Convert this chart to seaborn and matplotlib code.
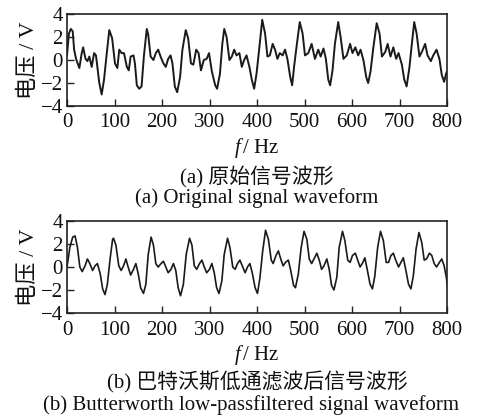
import numpy as np
import pandas as pd
import matplotlib
matplotlib.use("Agg")
import matplotlib.pyplot as plt
import seaborn as sns

# ---- data ----
t_orig = [0, 4, 8, 12, 15, 19, 26, 31, 34, 39, 43, 47, 52, 57, 61, 65, 68, 73, 78, 83,
          89, 95, 101, 106, 110, 115, 120, 126, 130, 134, 140, 143, 147, 152, 157, 162,
          168, 171, 176, 182, 187, 192, 197, 203, 208, 213, 218, 222, 227, 232, 238, 243,
          250, 255, 261, 266, 272, 277, 282, 288, 294, 299, 305, 312, 316, 322, 327, 331,
          336, 342, 347, 352, 357, 363, 368, 373, 378, 384, 389, 394, 399, 405, 411, 417,
          422, 427, 433, 438, 443, 448, 454, 459, 464, 470, 474, 478, 484, 490, 496, 501,
          508, 515, 522, 529, 534, 540, 545, 550, 554, 559, 564, 571, 576, 582, 589, 596,
          601, 607, 613, 618, 624, 630, 634, 639, 645, 652, 658, 663, 670, 675, 681, 687,
          693, 698, 705, 710, 715, 721, 726, 731, 736, 742, 747, 754, 759, 766, 771, 778,
          784, 789, 794, 798, 800]
v_orig = [0.4, 2.3, 2.7, 2.5, 0.9, 0.1, -0.7, 0.6, 1.1, 0.1, -0.1, 0.3, -0.6, 0.6,
          0.4, -1.0, -2.0, -3.0, -1.7, 0.3, 2.6, 1.9, -0.3, -0.7, 0.9, 0.6, 0.6, -0.6,
          -0.9, 0.3, 0.4, -0.3, -2.2, -2.5, -2.3, 0.4, 2.7, 2.2, 0.3, 0.0, 0.6, 0.9,
          0.3, -0.3, -0.6, 0.1, 0.4, -0.3, -2.3, -2.8, -1.5, 0.9, 2.6, 1.9, -0.3, -0.4,
          0.9, 0.6, -0.9, 0.0, 0.1, 0.6, -1.0, -2.2, -2.5, -1.2, 1.4, 2.7, 2.0, 0.0,
          0.3, 0.9, 0.4, 0.6, -0.6, 0.0, 0.4, -0.6, -1.7, -2.5, -1.2, 1.1, 3.5, 2.3,
          0.3, 0.4, 1.4, 0.9, 0.1, 0.6, 0.4, 0.9, 0.1, -1.5, -2.2, -0.6, 1.4, 3.3, 2.3,
          0.4, 0.6, 1.4, 0.1, 0.9, 0.3, 1.0, 0.1, -1.7, -2.2, -0.9, 1.4, 3.3, 2.0, 0.1,
          0.4, 1.4, 0.6, 1.1, 0.4, 0.9, 0.0, -1.5, -2.0, -1.0, 1.1, 3.2, 2.3, 0.3, 0.7,
          1.4, 0.3, 1.1, 0.1, 0.6, -0.4, -1.7, -2.3, -0.6, 1.4, 3.3, 2.3, 0.3, 0.7, 1.4,
          0.4, -0.1, 0.4, 0.9, 0.1, -1.3, -1.9, -1.2, -1.0]

t_filt = [0, 6, 12, 17, 22, 27, 32, 38, 43, 48, 54, 59, 64, 70, 75, 80, 85, 91, 96, 98,
          103, 109, 114, 119, 124, 128, 134, 140, 145, 150, 155, 161, 166, 171, 177, 182,
          187, 192, 198, 203, 208, 213, 219, 224, 229, 234, 239, 245, 251, 258, 263, 268,
          273, 279, 284, 289, 294, 300, 305, 310, 315, 320, 326, 331, 338, 343, 349, 354,
          359, 364, 369, 375, 380, 385, 390, 396, 401, 406, 412, 418, 424, 430, 434, 440,
          445, 450, 455, 460, 466, 471, 477, 481, 487, 493, 499, 505, 510, 515, 521, 526,
          531, 536, 541, 547, 552, 557, 562, 568, 573, 580, 585, 591, 596, 601, 607, 612,
          617, 623, 627, 632, 638, 643, 648, 654, 660, 666, 672, 677, 682, 687, 692, 698,
          703, 708, 713, 719, 724, 729, 735, 741, 747, 752, 757, 763, 768, 773, 778, 784,
          789, 794, 799, 800]
v_filt = [0.0, 1.7, 2.6, 2.7, 1.7, 0.0, -0.4, 0.1, 0.7, 0.3, -0.3, 0.1, 0.3, -0.6,
          -1.9, -2.4, -1.5, 0.8, 2.4, 2.5, 1.9, 0.1, -0.3, 0.1, 0.7, 0.1, -0.7, -0.2,
          0.3, -0.6, -1.8, -2.3, -1.5, 1.1, 2.6, 1.9, 0.3, 0.0, 0.3, 0.5, 0.0, -0.5,
          -0.2, 0.3, -0.3, -1.8, -2.5, -1.5, 1.1, 2.5, 1.9, 0.1, -0.2, 0.3, 0.6, 0.0,
          -0.5, -0.2, 0.3, -0.5, -1.8, -2.3, -1.2, 1.1, 2.5, 1.7, 0.0, -0.2, 0.3, 0.6,
          0.1, -0.5, 0.0, 0.3, -0.5, -1.8, -2.3, -1.0, 1.4, 3.2, 2.4, 0.6, 0.3, 1.0,
          1.4, 0.7, 0.1, 0.4, 0.6, -0.3, -1.6, -1.8, -0.6, 1.7, 3.1, 2.4, 0.7, 0.3, 0.8,
          1.2, 0.6, -0.2, 0.1, 0.7, -0.2, -1.6, -2.0, -0.9, 1.7, 3.1, 2.3, 0.6, 0.4,
          1.0, 1.2, 0.6, 0.0, 0.4, 0.8, -0.2, -1.5, -1.9, -0.8, 1.7, 3.1, 2.3, 0.4, 0.4,
          1.0, 1.2, 0.6, 0.0, 0.4, 0.8, -0.2, -1.5, -1.9, -0.8, 1.6, 3.0, 2.1, 0.6, 0.7,
          1.2, 1.0, 0.3, 0.0, 0.4, 0.7, 0.1, -1.0, -1.5]

x_ticks = [0, 100, 200, 300, 400, 500, 600, 700, 800]
y_ticks = [-4, -2, 0, 2, 4]
y_label = "电压 / V"
x_label = r"$f\,$/ Hz"
cap_a_zh = "(a) 原始信号波形"
cap_a_en = "(a) Original signal waveform"
cap_b_zh = "(b) 巴特沃斯低通滤波后信号波形"
cap_b_en = "(b) Butterworth low-passfiltered signal waveform"

# ---- style ----
sns.set_theme(style="ticks")
plt.rcParams["font.family"] = ["Liberation Serif", "Noto Sans CJK SC", "DejaVu Sans"]
plt.rcParams["mathtext.fontset"] = "custom"
plt.rcParams["mathtext.rm"] = "Liberation Serif"
plt.rcParams["mathtext.it"] = "Liberation Serif:italic"
plt.rcParams["axes.unicode_minus"] = True

W, H = 481, 415
fig = plt.figure(figsize=(W / 100, H / 100), dpi=100)
fig.patch.set_facecolor("white")

def px_axes(left, top, right, bottom):
    return fig.add_axes([left / W, 1 - bottom / H, (right - left) / W, (bottom - top) / H])

ax1 = px_axes(67, 14, 447, 106)
ax2 = px_axes(67, 221, 447, 313)

df1 = pd.DataFrame({"t": t_orig, "v": v_orig})
df2 = pd.DataFrame({"t": t_filt, "v": v_filt})
sns.lineplot(data=df1, x="t", y="v", ax=ax1, color="#1a1a1a", linewidth=1.4, sort=False)
sns.lineplot(data=df2, x="t", y="v", ax=ax2, color="#1a1a1a", linewidth=1.2, sort=False)

fs = 15
for ax, xpad, lpad in ((ax1, 5, 3), (ax2, 6, 2)):
    ax.set_facecolor("white")
    ax.set_xlim(0, 800)
    ax.set_ylim(-4, 4)
    ax.set_xticks(x_ticks)
    ax.set_yticks(y_ticks)
    ax.tick_params(axis="both", direction="in", length=5, width=1.0, colors="#222222",
                   labelsize=fs, labelcolor="#111111", top=False, right=False)
    ax.tick_params(axis="x", pad=xpad)
    ax.tick_params(axis="y", pad=3)
    for s in ax.spines.values():
        s.set_visible(True)
        s.set_linewidth(1.2)
        s.set_color("#222222")
    ax.set_ylabel(y_label, fontsize=fs + 1, labelpad=1, color="#111111")
    ax.set_xlabel(x_label, fontsize=fs, labelpad=lpad, color="#111111")

def caption(text, y_px, x_px=257):
    fig.text(x_px / W, 1 - y_px / H, text, ha="center", va="center", fontsize=fs,
             color="#111111")

caption(cap_a_zh, 177)
caption(cap_a_en, 198)
caption(cap_b_zh, 382)
caption(cap_b_en, 405, 251)

fig.savefig("out.png", dpi=100, facecolor="white")
